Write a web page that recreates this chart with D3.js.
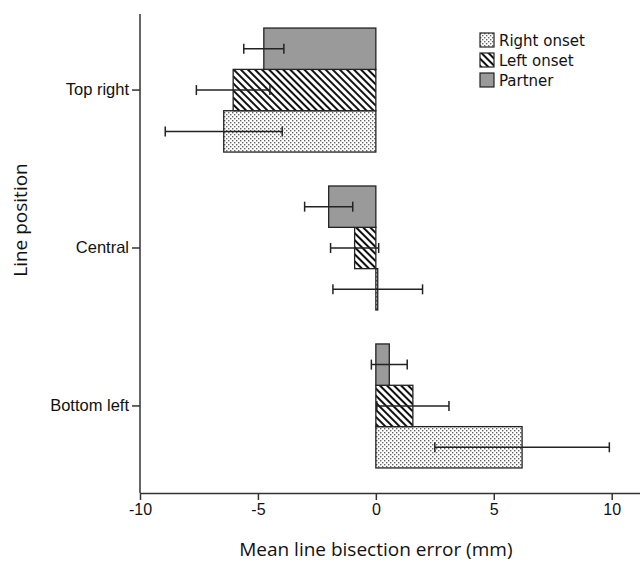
<!DOCTYPE html>
<html lang="en">
<head>
  <meta charset="UTF-8">
  <title>Line bisection</title>
  <script src="https://d3js.org/d3.v7.min.js"></script>
  <style>
    body { margin: 0; background: white; }
    svg { font-family: "DejaVu Sans", sans-serif; }
    .tick text { font-size: 16px; fill: #111; }
    .y-axis .tick text { font-size: 16.5px; }
    .axis-title { font-family: "Open Sans", sans-serif; font-size: 19px; fill: #111; }
    .legend text { font-size: 15px; fill: #111; }
  </style>
</head>
<body>
  <svg></svg>
  <script>
    const positions = ["Top right", "Central", "Bottom left"];
    const seriesNames = ["Right onset", "Left onset", "Partner"];
    // means (mm) per position, in the order of positions
    const rightOnset = [-6.45, 0.08, 6.2];
    const leftOnset = [-6.05, -0.9, 1.57];
    const partner = [-4.75, -2.0, 0.57];
    // half width of each error bar
    const rightOnsetErr = [2.48, 1.9, 3.7];
    const leftOnsetErr = [1.56, 1.02, 1.53];
    const partnerErr = [0.85, 1.02, 0.76];
    const xTicks = [-10, -5, 0, 5, 10];

    const seriesData = {
      "Right onset": { mean: rightOnset, err: rightOnsetErr },
      "Left onset": { mean: leftOnset, err: leftOnsetErr },
      "Partner": { mean: partner, err: partnerErr }
    };

    const width = 640, height = 563;
    const plotLeft = 140, plotRight = 640, plotTop = 14, plotBottom = 493;

    const svg = d3.select('svg')
        .attr('width', width)
        .attr('height', height);

    const defs = svg.append('defs');

    const dots = defs.append('pattern')
        .attr('id', 'dots')
        .attr('patternUnits', 'userSpaceOnUse')
        .attr('width', 4).attr('height', 4);
    dots.append('rect').attr('width', 4).attr('height', 4).attr('fill', '#fff');
    dots.append('rect').attr('x', 0).attr('y', 0).attr('width', 1.4).attr('height', 1.4).attr('fill', '#666');
    dots.append('rect').attr('x', 2).attr('y', 2).attr('width', 1.4).attr('height', 1.4).attr('fill', '#666');

    const stripes = defs.append('pattern')
        .attr('id', 'stripes')
        .attr('patternUnits', 'userSpaceOnUse')
        .attr('width', 5).attr('height', 5)
        .attr('patternTransform', 'rotate(-45)');
    stripes.append('rect').attr('width', 5).attr('height', 5).attr('fill', '#fff');
    stripes.append('line')
        .attr('x1', 1).attr('y1', 0).attr('x2', 1).attr('y2', 5)
        .attr('stroke', '#111').attr('stroke-width', 2);

    const fills = {
      "Right onset": 'url(#dots)',
      "Left onset": 'url(#stripes)',
      "Partner": '#9a9a9a'
    };

    const x = d3.scaleLinear()
        .domain([-10, 11.2])
        .range([plotLeft, plotRight]);

    const y = d3.scaleBand()
        .domain(positions)
        .range([plotTop, 482])
        .paddingInner(0.215)
        .paddingOuter(0.089);

    // bars inside each group: Partner on top, Right onset at the bottom
    const yInner = d3.scaleBand()
        .domain(seriesNames.slice().reverse())
        .range([0, y.bandwidth()]);

    const rows = [];
    positions.forEach((p, i) => {
      seriesNames.forEach(s => {
        rows.push({ position: p, series: s, mean: seriesData[s].mean[i], err: seriesData[s].err[i] });
      });
    });

    svg.selectAll('.bar')
        .data(rows)
        .enter()
        .append('rect')
        .attr('class', 'bar')
        .attr('x', d => x(Math.min(0, d.mean)))
        .attr('y', d => y(d.position) + yInner(d.series))
        .attr('width', d => Math.abs(x(d.mean) - x(0)))
        .attr('height', yInner.bandwidth())
        .attr('fill', d => fills[d.series])
        .attr('stroke', '#222')
        .attr('stroke-width', 1.3);

    const capH = 10;
    const eb = svg.selectAll('.errbar')
        .data(rows)
        .enter()
        .append('g')
        .attr('class', 'errbar')
        .attr('transform', d => `translate(0,${y(d.position) + yInner(d.series) + yInner.bandwidth() / 2})`)
        .attr('stroke', '#222')
        .attr('stroke-width', 1.5);
    eb.append('line')
        .attr('x1', d => x(d.mean - d.err))
        .attr('x2', d => x(d.mean + d.err));
    eb.append('line')
        .attr('x1', d => x(d.mean - d.err)).attr('x2', d => x(d.mean - d.err))
        .attr('y1', -capH / 2).attr('y2', capH / 2);
    eb.append('line')
        .attr('x1', d => x(d.mean + d.err)).attr('x2', d => x(d.mean + d.err))
        .attr('y1', -capH / 2).attr('y2', capH / 2);

    // axes
    const xAxis = svg.append('g')
        .attr('transform', `translate(0,${plotBottom})`)
        .call(d3.axisBottom(x).tickValues(xTicks).tickFormat(d => String(d))
            .tickSize(7).tickSizeOuter(0).tickPadding(4));
    xAxis.select('.domain').attr('stroke', '#333').attr('stroke-width', 1.5);
    xAxis.selectAll('.tick line').attr('stroke', '#333').attr('stroke-width', 1.5);

    const yAxis = svg.append('g')
        .attr('class', 'y-axis')
        .attr('transform', `translate(${plotLeft},0)`)
        .call(d3.axisLeft(y).tickSize(8).tickSizeOuter(0).tickPadding(3));
    yAxis.select('.domain').attr('d', `M0,${plotTop}V${plotBottom}`)
        .attr('stroke', '#333').attr('stroke-width', 1.5);
    yAxis.selectAll('.tick line').attr('stroke', '#333').attr('stroke-width', 1.5);

    svg.append('text')
        .attr('class', 'axis-title')
        .attr('x', x(0))
        .attr('y', 556)
        .attr('text-anchor', 'middle')
        .text('Mean line bisection error (mm)');

    svg.append('text')
        .attr('class', 'axis-title')
        .attr('transform', 'rotate(-90)')
        .attr('x', -220)
        .attr('y', 27)
        .attr('text-anchor', 'middle')
        .text('Line position');

    // legend
    const legend = svg.append('g')
        .attr('class', 'legend')
        .attr('transform', 'translate(480,33)');
    const li = legend.selectAll('g')
        .data(seriesNames)
        .enter()
        .append('g')
        .attr('transform', (d, i) => `translate(0,${i * 20})`);
    li.append('rect')
        .attr('width', 14).attr('height', 14)
        .attr('fill', d => fills[d])
        .attr('stroke', '#222').attr('stroke-width', 1.2);
    li.append('text')
        .attr('x', 19)
        .attr('y', 8)
        .attr('dy', '0.35em')
        .text(d => d);
  </script>
</body>
</html>
